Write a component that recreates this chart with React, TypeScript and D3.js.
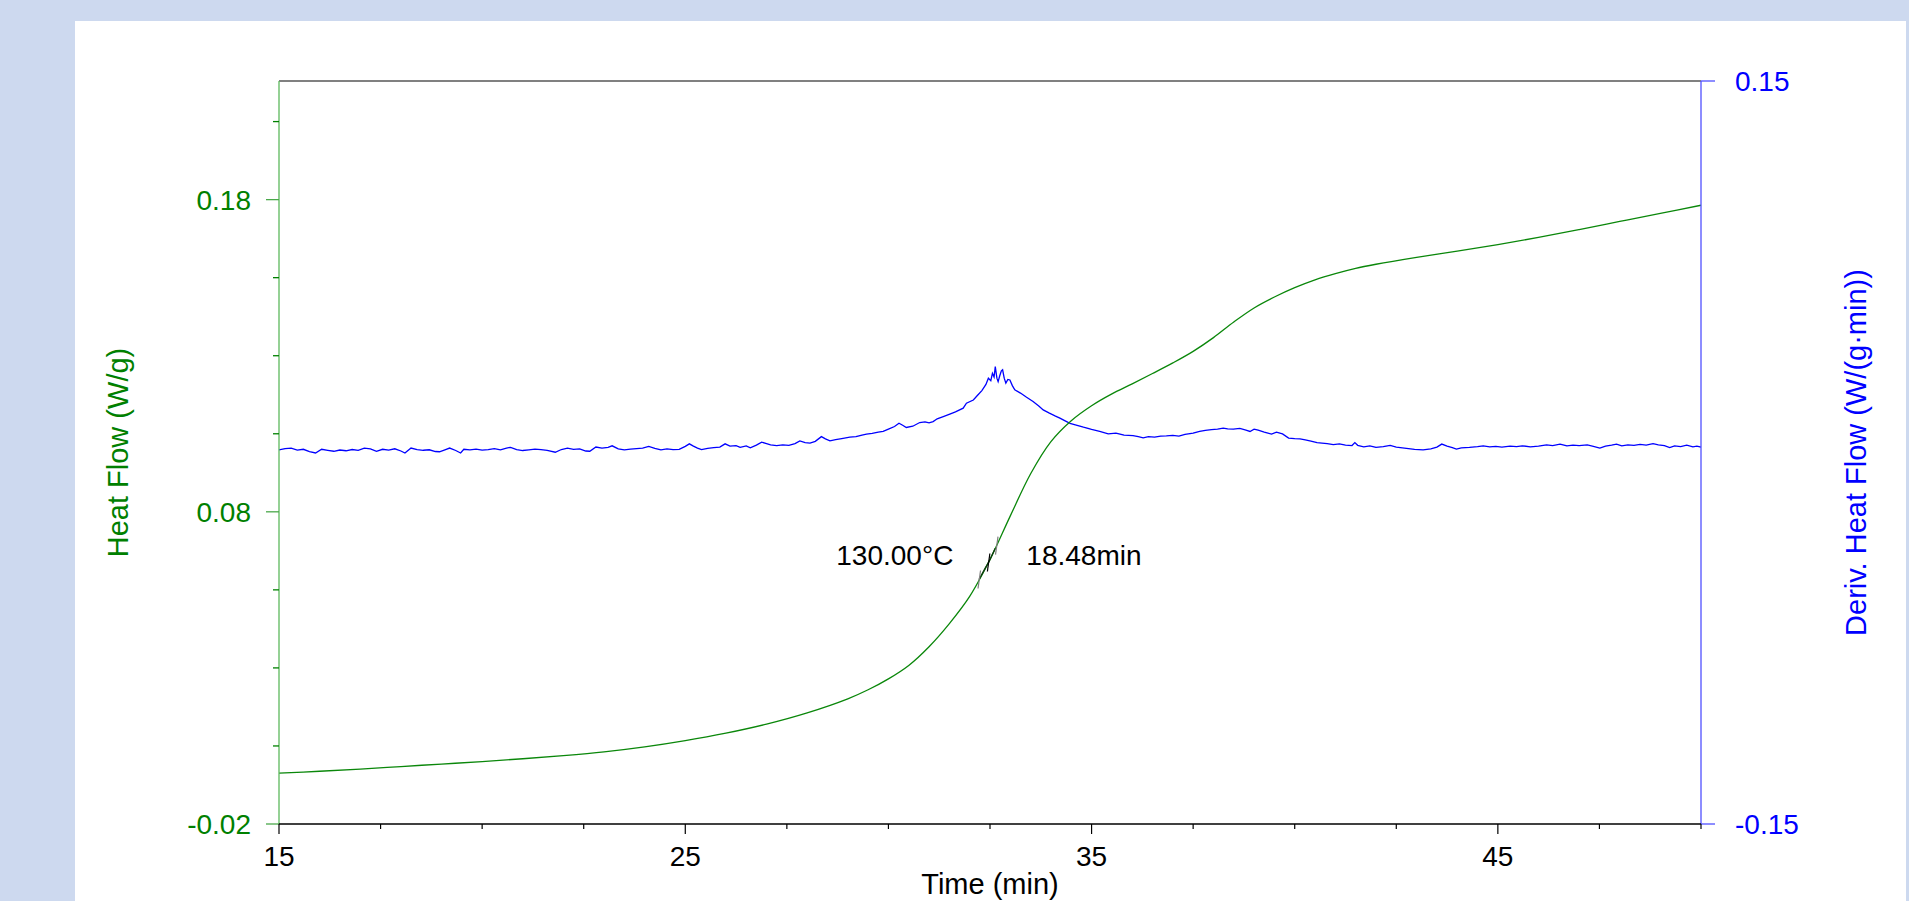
import React from "react";
import * as d3 from "d3";

// heat flow (W/g) vs time (min)
const heatTime = [
  15, 16, 17, 18, 19, 20, 21, 22, 23, 24, 25, 26, 27, 28, 29, 29.5, 30, 30.5, 31, 31.5, 32,
  32.5, 33, 33.5, 34, 34.5, 35, 35.5, 36, 36.5, 37, 37.5, 38, 38.5, 39, 39.5, 40, 40.5, 41,
  41.5, 42, 43, 44, 45, 46, 47, 48, 49, 50,
];
const heatFlow = [
  -0.0037, -0.0031, -0.0024, -0.0016, -0.0008, 0.0, 0.0009, 0.0019, 0.0031, 0.0047, 0.0067,
  0.0091, 0.012, 0.0156, 0.0201, 0.023, 0.0265, 0.0308, 0.0368, 0.0442, 0.0529, 0.0647, 0.0787,
  0.0922, 0.1025, 0.1092, 0.114, 0.1178, 0.121, 0.1243, 0.1277, 0.1314, 0.1358, 0.1408, 0.1453,
  0.1488, 0.1518, 0.1543, 0.1563, 0.158, 0.1593, 0.1615, 0.1635, 0.1656, 0.1679, 0.1704, 0.173,
  0.1756, 0.1782,
];

// derivative heat flow (W/(g·min)) as [time, value]
const derivFlow: [number, number][] = [
  [15.0, 0.0011], [15.15, 0.0016], [15.3, 0.0018], [15.45, 0.001], [15.6, 0.0013], [15.75, 0.0004],
  [15.9, -0.0002], [16.05, 0.0013], [16.2, 0.0009], [16.35, 0.0005], [16.5, 0.001], [16.65, 0.0007],
  [16.8, 0.0012], [16.95, 0.0009], [17.1, 0.0018], [17.25, 0.0015], [17.4, 0.0005], [17.55, 0.0013],
  [17.7, 0.001], [17.85, 0.0015], [18.0, 0.0006], [18.1, -0.0002], [18.25, 0.0018], [18.4, 0.0012],
  [18.55, 0.0009], [18.7, 0.0011], [18.85, 0.0004], [18.95, 0.0003], [19.1, 0.0012], [19.2, 0.0018],
  [19.35, 0.0008], [19.47, -0.0002], [19.55, 0.0013], [19.7, 0.0011], [19.85, 0.0014], [20.0, 0.001],
  [20.15, 0.0012], [20.3, 0.0016], [20.45, 0.0011], [20.6, 0.0018], [20.7, 0.0021], [20.85, 0.0012],
  [21.0, 0.0008], [21.15, 0.0011], [21.3, 0.0014], [21.45, 0.0012], [21.6, 0.0009], [21.8, 0.0001],
  [21.95, 0.0012], [22.1, 0.0018], [22.25, 0.0013], [22.4, 0.0015], [22.55, 0.0006], [22.65, 0.0005],
  [22.8, 0.0022], [22.95, 0.0018], [23.1, 0.0021], [23.2, 0.0027], [23.35, 0.0015], [23.5, 0.0011],
  [23.65, 0.0014], [23.8, 0.0016], [23.95, 0.0018], [24.1, 0.0025], [24.25, 0.0017], [24.4, 0.0011],
  [24.55, 0.0015], [24.7, 0.0012], [24.85, 0.0013], [25.0, 0.0025], [25.1, 0.0035], [25.2, 0.0026],
  [25.3, 0.0018], [25.4, 0.0012], [25.55, 0.0017], [25.7, 0.002], [25.85, 0.0022], [25.98, 0.0035],
  [26.1, 0.0026], [26.25, 0.0028], [26.35, 0.0021], [26.5, 0.0027], [26.6, 0.0019], [26.75, 0.003],
  [26.88, 0.0042], [27.0, 0.0036], [27.1, 0.0031], [27.25, 0.0028], [27.4, 0.0031], [27.55, 0.0029],
  [27.7, 0.0036], [27.82, 0.0047], [27.95, 0.004], [28.07, 0.0038], [28.2, 0.0045], [28.35, 0.0064],
  [28.45, 0.0055], [28.56, 0.0047], [28.7, 0.0052], [28.85, 0.0056], [29.05, 0.0062], [29.2, 0.0064],
  [29.35, 0.007], [29.46, 0.0074], [29.6, 0.0077], [29.75, 0.0082], [29.87, 0.0085], [30.0, 0.0094],
  [30.15, 0.0105], [30.26, 0.0118], [30.35, 0.011], [30.44, 0.0101], [30.6, 0.0106], [30.77, 0.0121],
  [30.9, 0.0124], [31.0, 0.012], [31.1, 0.0125], [31.2, 0.0136], [31.35, 0.0145], [31.51, 0.0155],
  [31.65, 0.0164], [31.84, 0.0179], [31.92, 0.0199], [32.09, 0.0212], [32.2, 0.0232], [32.3, 0.025],
  [32.4, 0.0275], [32.46, 0.03], [32.52, 0.029], [32.56, 0.032], [32.6, 0.0305], [32.63, 0.0347],
  [32.67, 0.03], [32.7, 0.0286], [32.74, 0.031], [32.78, 0.033], [32.81, 0.0334], [32.85, 0.03],
  [32.89, 0.028], [32.94, 0.0295], [32.99, 0.0293], [33.05, 0.027], [33.11, 0.0253], [33.25, 0.024],
  [33.4, 0.0223], [33.56, 0.0206], [33.7, 0.0188], [33.81, 0.0172], [33.95, 0.016], [34.1, 0.0148],
  [34.22, 0.0139], [34.35, 0.0128], [34.47, 0.0118], [34.6, 0.0112], [34.8, 0.0102], [35.0, 0.0093],
  [35.2, 0.0085], [35.41, 0.0075], [35.6, 0.0078], [35.8, 0.007], [36.02, 0.0068], [36.15, 0.0064],
  [36.27, 0.0059], [36.4, 0.0064], [36.55, 0.0062], [36.7, 0.0066], [36.84, 0.0067], [37.0, 0.0069],
  [37.15, 0.0066], [37.3, 0.0073], [37.5, 0.0078], [37.66, 0.0085], [37.8, 0.0089], [37.95, 0.0092],
  [38.1, 0.0094], [38.24, 0.0098], [38.35, 0.0095], [38.49, 0.0094], [38.65, 0.0097], [38.8, 0.009],
  [38.9, 0.0085], [39.0, 0.0094], [39.1, 0.009], [39.25, 0.0082], [39.43, 0.0074], [39.55, 0.0082],
  [39.7, 0.0075], [39.85, 0.0058], [40.0, 0.0056], [40.13, 0.0055], [40.26, 0.0051], [40.4, 0.0046],
  [40.55, 0.004], [40.67, 0.0038], [40.8, 0.0036], [40.95, 0.0032], [41.1, 0.0035], [41.25, 0.003],
  [41.41, 0.0028], [41.48, 0.004], [41.55, 0.0029], [41.7, 0.0023], [41.85, 0.0027], [42.0, 0.0021],
  [42.18, 0.0024], [42.35, 0.0029], [42.5, 0.0022], [42.65, 0.0019], [42.8, 0.0016], [42.95, 0.0013],
  [43.16, 0.0011], [43.35, 0.0015], [43.5, 0.0022], [43.62, 0.0034], [43.75, 0.0026], [43.88, 0.002],
  [43.98, 0.0014], [44.1, 0.0019], [44.3, 0.0021], [44.5, 0.0024], [44.64, 0.0027], [44.8, 0.0023],
  [44.95, 0.0025], [45.1, 0.0022], [45.3, 0.0026], [45.46, 0.0024], [45.6, 0.0027], [45.8, 0.0023],
  [46.0, 0.0026], [46.2, 0.0031], [46.35, 0.0028], [46.53, 0.0034], [46.7, 0.0027], [46.85, 0.003],
  [47.0, 0.0028], [47.2, 0.0031], [47.35, 0.0025], [47.51, 0.0018], [47.65, 0.0026], [47.8, 0.003],
  [47.92, 0.0034], [48.05, 0.0027], [48.2, 0.0031], [48.35, 0.0029], [48.5, 0.0033], [48.65, 0.003],
  [48.82, 0.0036], [48.95, 0.0031], [49.1, 0.0028], [49.23, 0.002], [49.35, 0.0027], [49.5, 0.0024],
  [49.65, 0.003], [49.8, 0.0023], [49.9, 0.0026], [50.0, 0.0022],
];

const xTickLabels = [15, 25, 35, 45];
const heatTickLabels = [-0.02, 0.08, 0.18];
const derivTickLabels = [0.15, -0.15];
// integration markers on the heat flow curve
const markerTimes = [32.23, 32.46, 32.66];
const markerColors = ["#808080", "#000000", "#808080"];
const tempLabel = "130.00°C";
const timeLabel = "18.48min";

const W = 1909;
const H = 901;
const plot = { left: 279, right: 1701, top: 81, bottom: 824 };
const FONT = "'Liberation Sans', Arial, sans-serif";
const GREEN = "#008000";
const BLUE = "#0000ff";

export default function App() {
  const x = d3.scaleLinear().domain([15, 50]).range([plot.left, plot.right]);
  const yHeat = d3.scaleLinear().domain([-0.02, 0.218]).range([plot.bottom, plot.top]);
  const yDeriv = d3.scaleLinear().domain([-0.15, 0.15]).range([plot.bottom, plot.top]);

  const heatPts: [number, number][] = heatTime.map((t, i) => [t, heatFlow[i]]);
  const heatLine = d3
    .line<[number, number]>()
    .x((d) => x(d[0]))
    .y((d) => yHeat(d[1]))
    .curve(d3.curveCatmullRom.alpha(0.5));
  const derivLine = d3
    .line<[number, number]>()
    .x((d) => x(d[0]))
    .y((d) => yDeriv(d[1]));

  const heatAt = d3.scaleLinear().domain(heatTime).range(heatFlow);
  const xTicks = d3.range(15, 50.001, 2.5);
  const yTicks = d3.range(-0.02, 0.2176, 0.025);

  // dark segment between the outer markers
  const segTimes = d3.range(markerTimes[0], markerTimes[2] + 0.001, 0.04);
  const segLine = d3
    .line<number>()
    .x((t) => x(t))
    .y((t) => yHeat(heatAt(t)));

  const mid = markerTimes[1];
  const midX = x(mid);
  const midY = yHeat(heatAt(mid));

  return (
    <svg
      width={W}
      height={H}
      style={{ position: "fixed", left: 0, top: 0, display: "block" }}
      fontFamily={FONT}
    >
      <rect x={0} y={0} width={W} height={H} fill="#cdd9ef" />
      <rect x={75} y={21} width={1831} height={H} fill="#ffffff" />

      {/* data */}
      <path d={derivLine(derivFlow) ?? ""} fill="none" stroke={BLUE} strokeWidth={1.3} />
      <path d={heatLine(heatPts) ?? ""} fill="none" stroke="#0a870a" strokeWidth={1.3} />
      <path d={segLine(segTimes) ?? ""} fill="none" stroke="#0b3b0b" strokeWidth={1.4} />

      {/* integration markers */}
      {markerTimes.map((t, i) => {
        const cx = x(t);
        const cy = yHeat(heatAt(t));
        return (
          <line
            key={t}
            x1={cx + 1.5}
            y1={cy - 9}
            x2={cx - 1}
            y2={cy + 9}
            stroke={markerColors[i]}
            strokeWidth={1.2}
          />
        );
      })}
      <text x={midX - 35} y={midY + 2} textAnchor="end" fontSize={28} fill="#000">
        {tempLabel}
      </text>
      <text x={midX + 38} y={midY + 2} fontSize={28} fill="#000">
        {timeLabel}
      </text>

      {/* frame */}
      <line x1={plot.left} x2={plot.right} y1={plot.top} y2={plot.top} stroke="#808080" strokeWidth={1.8} />
      <line x1={plot.left} x2={plot.left} y1={plot.top} y2={plot.bottom} stroke="#5cb85c" strokeWidth={1.3} />
      <line x1={plot.right} x2={plot.right} y1={plot.top} y2={plot.bottom} stroke="#5050ff" strokeWidth={1.3} />

      {/* left axis */}
      {yTicks.map((v) => {
        const major = heatTickLabels.some((l) => Math.abs(l - v) < 1e-6);
        return (
          <line
            key={v}
            x1={plot.left - (major ? 13 : 6)}
            x2={plot.left}
            y1={yHeat(v)}
            y2={yHeat(v)}
            stroke={major ? "#4aa84a" : GREEN}
            strokeWidth={1.3}
          />
        );
      })}
      {heatTickLabels.map((v) => (
        <text key={v} x={251} y={yHeat(v)} dy="0.36em" textAnchor="end" fontSize={28} fill={GREEN}>
          {v.toFixed(2)}
        </text>
      ))}
      <text
        transform={`translate(128,${(plot.top + plot.bottom) / 2}) rotate(-90)`}
        textAnchor="middle"
        fontSize={29}
        fill={GREEN}
      >
        Heat Flow (W/g)
      </text>

      {/* right axis */}
      {derivTickLabels.map((v) => (
        <g key={v}>
          <line x1={plot.right} x2={plot.right + 14} y1={yDeriv(v)} y2={yDeriv(v)} stroke="#5050ff" strokeWidth={1.3} />
          <text x={1735} y={yDeriv(v)} dy="0.36em" fontSize={28} fill={BLUE}>
            {v.toFixed(2)}
          </text>
        </g>
      ))}
      <text
        transform={`translate(1866,${(plot.top + plot.bottom) / 2}) rotate(-90)`}
        textAnchor="middle"
        fontSize={29}
        fill={BLUE}
      >
        Deriv. Heat Flow (W/(g·min))
      </text>

      {/* bottom axis */}
      <line x1={plot.left} x2={plot.right} y1={plot.bottom} y2={plot.bottom} stroke="#000" strokeWidth={1.3} />
      {xTicks.map((t) => {
        const major = xTickLabels.includes(t);
        return (
          <line
            key={t}
            x1={x(t)}
            x2={x(t)}
            y1={plot.bottom}
            y2={plot.bottom + (major ? 10 : 5)}
            stroke="#000"
            strokeWidth={1.2}
          />
        );
      })}
      {xTickLabels.map((t) => (
        <text key={t} x={x(t)} y={866} textAnchor="middle" fontSize={28} fill="#000">
          {t}
        </text>
      ))}
      <text x={(plot.left + plot.right) / 2} y={894} textAnchor="middle" fontSize={29} fill="#000">
        Time (min)
      </text>
    </svg>
  );
}
